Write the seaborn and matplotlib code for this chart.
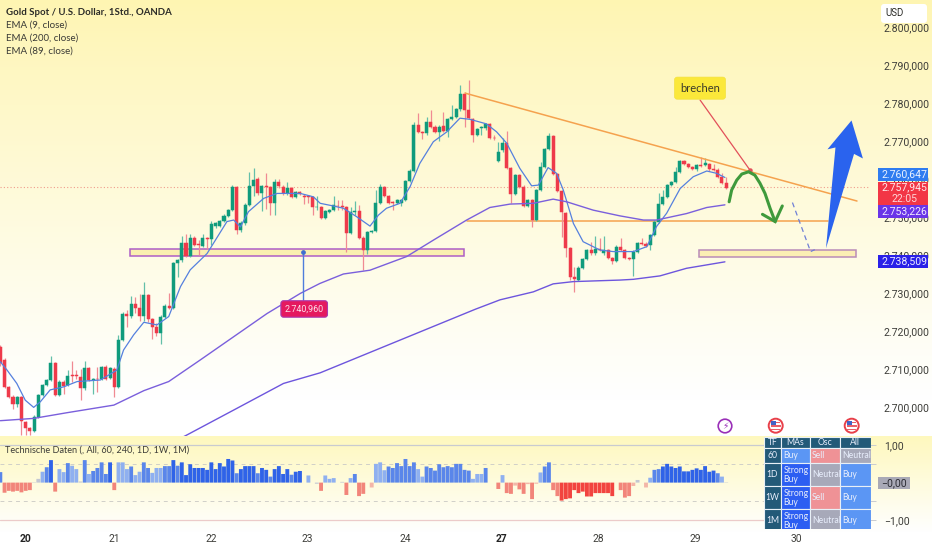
import numpy as np
import pandas as pd
import matplotlib
matplotlib.use("Agg")
import matplotlib.pyplot as plt
from matplotlib.patches import Rectangle, Polygon, Circle, FancyBboxPatch
import seaborn as sns

# ---------- data: candles ----------
opens = [2715.9,2712.4,2705.3,2702.7,2700.8,2702.7,2696.1,2694.4,2693.8,2697.3,
 2703.2,2705.8,2707.1,2711.5,2703.2,2706.7,2705.8,2708.4,2708.4,2708.0,
 2704.9,2710.2,2707.1,2707.5,2707.4,2710.6,2707.7,2710.0,2705.3,2717.6,
 2724.5,2724.0,2727.1,2726.0,2724.0,2729.5,2723.1,2721.0,2719.6,2723.8,
 2726.7,2726.1,2738.0,2738.7,2743.1,2739.8,2744.4,2742.9,2742.4,2744.4,
 2744.1,2747.7,2747.7,2748.9,2750.3,2751.8,2758.0,2746.6,2748.5,2753.2,
 2758.2,2760.0,2756.2,2758.2,2757.8,2753.6,2759.2,2758.0,2756.2,2757.5,
 2755.2,2756.5,2755.6,2755.5,2755.2,2752.5,2752.5,2749.8,2751.4,2751.9,
 2753.0,2752.9,2752.5,2745.7,2751.3,2751.6,2744.6,2741.3,2746.0,2746.4,
 2753.8,2757.8,2755.6,2753.9,2753.6,2753.6,2754.5,2759.5,2762.2,2774.1,
 2772.4,2772.0,2775.1,2773.8,2772.4,2773.9,2772.6,2775.8,2776.4,2778.3,
 2782.4,2778.2,2775.8,2771.7,2773.3,2773.3,2774.5,2770.9,2764.8,2767.5,
 2769.6,2762.8,2756.0,2761.0,2758.0,2752.9,2754.5,2749.2,2757.1,2763.2,
 2767.8,2771.3,2761.3,2756.9,2751.1,2741.9,2734.3,2733.4,2736.7,2738.9,
 2741.2,2740.4,2741.6,2740.4,2741.3,2739.3,2738.5,2742.2,2741.3,2739.3,
 2738.9,2740.9,2743.2,2743.0,2742.5,2745.3,2748.8,2753.4,2755.3,2758.4,
 2759.3,2761.9,2764.7,2763.9,2763.1,2762.5,2763.7,2763.7,2763.9,2762.5,
 2762.4,2760.6,2758.9]
closes = [2711.5,2705.3,2702.7,2700.8,2702.7,2696.4,2694.4,2693.8,2697.3,2703.2,
 2705.8,2707.1,2711.5,2703.2,2706.7,2705.5,2708.2,2708.2,2708.1,2704.9,
 2710.2,2707.1,2707.4,2707.3,2710.4,2707.5,2710.2,2705.3,2717.6,2724.5,
 2724.0,2727.1,2726.0,2724.0,2729.5,2723.1,2721.0,2719.6,2723.8,2726.7,
 2726.1,2738.0,2738.7,2743.1,2739.8,2744.4,2742.6,2742.7,2744.6,2744.2,
 2748.2,2748.4,2748.9,2750.3,2751.8,2758.0,2746.6,2748.5,2753.2,2758.2,
 2759.7,2756.2,2758.2,2757.8,2753.6,2759.2,2758.2,2756.2,2757.5,2755.2,
 2756.5,2756.1,2755.2,2755.3,2752.5,2752.7,2749.8,2751.6,2751.9,2753.2,
 2752.8,2752.6,2745.7,2751.4,2751.6,2744.6,2741.3,2746.0,2746.4,2753.8,
 2757.8,2755.6,2753.8,2753.8,2754.5,2754.5,2759.5,2762.2,2774.2,2772.4,
 2772.0,2775.1,2773.8,2772.4,2773.8,2772.6,2775.8,2776.4,2778.3,2782.4,
 2778.2,2776.0,2771.7,2773.1,2773.6,2774.5,2770.7,2770.7,2767.2,2769.6,
 2762.8,2756.0,2761.0,2758.0,2752.9,2754.5,2749.2,2757.1,2763.2,2767.8,
 2771.3,2761.3,2756.9,2751.4,2741.9,2734.3,2733.6,2736.7,2738.9,2741.3,
 2740.4,2741.7,2741.3,2741.3,2739.3,2738.5,2742.2,2741.3,2739.3,2738.9,
 2740.9,2743.2,2743.0,2742.4,2745.3,2748.8,2753.4,2755.3,2758.4,2759.3,
 2761.9,2764.7,2763.9,2763.1,2762.6,2763.7,2763.5,2764.1,2762.5,2762.4,
 2760.6,2759.0,2757.7]
highs = [2716.2,2712.8,2705.6,2703.2,2703.0,2703.0,2696.3,2694.7,2698.0,2703.5,
 2706.0,2707.5,2713.4,2711.8,2707.0,2707.0,2709.7,2712.2,2709.7,2710.0,
 2712.0,2710.5,2707.7,2710.4,2710.7,2711.0,2710.6,2710.5,2719.0,2725.0,
 2725.5,2729.1,2729.0,2729.7,2732.8,2729.8,2723.5,2722.0,2724.2,2727.2,
 2729.9,2738.2,2739.0,2745.0,2745.4,2745.6,2745.0,2744.0,2745.4,2744.7,
 2749.0,2748.8,2749.2,2750.7,2752.2,2758.3,2758.2,2749.0,2753.6,2761.9,
 2763.0,2760.5,2758.5,2761.5,2758.1,2760.0,2760.0,2758.3,2759.1,2757.8,
 2756.8,2756.8,2756.0,2755.8,2755.6,2755.4,2752.8,2751.9,2752.2,2755.4,
 2754.5,2754.5,2752.8,2752.7,2754.2,2753.1,2744.9,2746.3,2746.7,2757.1,
 2758.7,2758.1,2755.9,2754.1,2754.8,2754.8,2759.8,2762.5,2775.1,2777.3,
 2772.7,2776.4,2778.2,2774.1,2774.1,2777.5,2776.1,2779.5,2778.6,2784.7,
 2783.0,2786.1,2776.1,2773.4,2774.0,2774.8,2774.8,2771.5,2769.8,2770.7,
 2772.5,2763.1,2761.3,2761.3,2758.3,2754.8,2754.8,2757.4,2764.5,2768.1,
 2772.0,2771.6,2761.6,2757.2,2751.4,2742.2,2736.9,2737.0,2739.2,2741.6,
 2743.5,2745.0,2744.4,2745.0,2741.6,2739.6,2742.5,2744.6,2741.6,2739.6,
 2741.2,2743.5,2744.5,2743.3,2745.6,2749.1,2756.2,2757.1,2758.7,2759.6,
 2763.2,2765.0,2765.0,2764.2,2763.4,2764.0,2765.9,2765.4,2764.2,2763.9,
 2762.8,2761.5,2760.4]
lows = [2710.8,2705.0,2702.3,2699.5,2700.0,2692.6,2692.6,2692.6,2693.5,2697.0,
 2703.0,2705.5,2706.8,2703.0,2702.8,2703.5,2705.5,2706.7,2707.5,2701.8,
 2704.5,2706.8,2703.5,2704.0,2707.0,2707.2,2707.4,2702.7,2705.0,2717.3,
 2721.0,2723.5,2724.8,2722.5,2722.5,2722.3,2717.8,2718.6,2716.5,2723.5,
 2725.8,2725.8,2734.3,2738.2,2739.5,2739.5,2742.3,2740.0,2742.0,2741.5,
 2742.6,2747.0,2747.3,2748.6,2750.0,2751.5,2745.5,2746.0,2748.0,2752.9,
 2755.5,2755.8,2751.5,2752.0,2750.5,2750.5,2757.6,2755.9,2755.9,2754.9,
 2754.9,2755.8,2753.5,2753.6,2750.5,2751.8,2749.5,2749.5,2751.0,2751.6,
 2751.8,2751.8,2740.9,2745.4,2750.5,2744.3,2736.0,2740.2,2745.7,2746.1,
 2753.5,2755.3,2753.5,2751.8,2753.3,2752.8,2754.2,2759.2,2761.9,2772.1,
 2770.5,2771.7,2773.5,2772.1,2770.0,2772.3,2771.1,2775.5,2776.1,2778.0,
 2773.8,2775.7,2769.8,2771.4,2771.6,2773.0,2770.4,2770.3,2764.5,2767.2,
 2762.5,2753.8,2755.7,2757.7,2752.6,2752.6,2747.3,2748.9,2756.8,2762.9,
 2767.5,2761.0,2756.6,2744.8,2739.6,2733.5,2730.3,2733.1,2736.4,2738.6,
 2740.1,2740.1,2741.0,2740.1,2739.0,2737.5,2738.2,2741.0,2739.0,2738.6,
 2734.6,2740.6,2742.7,2742.1,2741.3,2745.0,2748.5,2753.1,2755.0,2758.1,
 2759.0,2761.6,2763.6,2762.8,2762.3,2762.2,2763.2,2763.4,2762.2,2762.1,
 2760.3,2758.7,2757.4]

# ---------- moving averages ----------
ema9_i = [0,1.6,3.9,5.9,7.9,9.5,11.8,15,18.2,23.7,27.6,29.2,31.6,34,37.1,39.9,42.7,45,49,53.7,
 55.3,56.9,58.8,62.4,65.6,71.1,74.2,75.8,78.9,81.3,84.4,87.6,89.6,91.5,94.7,97.1,99.4,102.6,105.8,108.9,
 111.3,115.2,117.6,120,123.1,125.9,127.5,129.8,131.8,133.4,135.8,138.1,142.1,145.2,150,153.2,155.5,157.9,161.1,164.2,
 167.4,169.7,171.7]
ema9_p = [2711.9,2709.7,2706.2,2701.8,2699.9,2701.4,2704.5,2705.3,2706.7,2707.1,2709.7,2715,2719,2722.3,2721.6,2723.8,2731.7,2736.1,2740.4,2748.8,
 2749.2,2747.4,2751.4,2754.9,2756.2,2756.2,2755.3,2753.6,2752.9,2752.3,2750.1,2747.6,2750.5,2752.3,2753.6,2758,2764.1,2769.8,2772.4,2776,
 2775.7,2774.5,2772.4,2769.4,2762.8,2758.2,2758.4,2763,2761.5,2757.1,2748.3,2743.5,2741.3,2740.9,2740.9,2742.2,2747.5,2751,2757.5,2760.6,
 2762.1,2761.5,2760.4]
ema89_i = [0,7.9,15.8,26.9,34,39.9,47.4,55.3,63.2,71.1,75.7,81.3,87.6,96.3,102.6,110.5,116,120.8,126.3,131,134.2,140.5,146.8,152.4,155.5,162.6,167.4,171.7]
ema89_p = [2696.4,2697,2698.5,2700.5,2704.3,2706.7,2712.4,2718.5,2724.6,2729.9,2732.5,2735,2736,2739.6,2743.9,2749.2,2752.5,2753.4,2753.6,2754.7,2754,2751.8,2750.3,2749.2,2749.2,2750.9,2752.5,2753.2]
ema200_i = [39.5,43.8,55.3,67.1,75.8,94.7,112.5,118.4,126.3,131,135.8,146.8,150,156.3,162.6,171.7]
ema200_p = [2690,2692.4,2699.2,2706.2,2709,2717.6,2725.7,2728.2,2730.3,2732.4,2733,2733.4,2733.6,2734.5,2736.5,2738.2]

# ---------- indicator histogram ----------
rating = [.28,-.27,-.22,-.24,-.22,-.26,-.22,-.2,.01,.1,
 .29,.41,.6,-.24,.36,.28,.52,.45,.36,.03,
 .6,.23,.31,.39,.54,.23,.54,-.2,.54,.54,
 .36,.43,.2,.29,.54,.39,.26,.39,.39,.44,
 .44,.6,.45,.54,.2,.49,.39,.39,.39,.34,
 .54,.36,.52,.43,.63,.59,.25,.36,.44,.44,
 .44,.25,.39,.34,.16,.36,.44,.23,.36,.21,
 .29,.31,0,.19,0,-.03,-.22,.19,.1,.12,
 0,.02,-.33,.12,.23,-.36,-.3,0,-.13,.5,
 .54,.33,.43,.39,.52,.44,.63,.44,.54,.36,
 .16,.43,.39,.32,.49,.41,.44,.41,.5,.5,
 .34,.32,.1,.23,.23,.39,0,0,-.17,.2,
 -.28,-.3,-.08,-.18,-.3,-.04,-.44,-.03,.27,.43,
 .54,-.2,-.36,-.48,-.44,-.42,-.2,-.28,-.24,-.37,
 -.37,-.28,-.28,-.28,-.28,-.36,0,-.2,-.4,-.36,
 -.09,.07,0,-.13,.13,.34,.36,.43,.5,.43,
 .39,.43,.3,.3,.34,.38,.34,.44,.29,.32,
 .25,.16,.01]
tones = list("mpppppppgg" "lmdpllmllg" "mlmmmmdpll" "lmllmmlllm" "mdmddddddd"
             "ddddddmddd" "dmddmddddm" "ddglggplll" "ggplmppgql" "llmmmmmmml"
             "lmmmmmmmmm" "mmlllmggpl" "ppqppqpqlm" "mpprrrrrrr" "rrrrrrgppp"
             "qggqlmmddd" "dddddddddd" "mlg")
tone_colors = {"d": "#2f63e8", "m": "#5a86ea", "l": "#8fb0f0", "g": "#c3c7d2",
               "r": "#f2443f", "p": "#f2857a", "q": "#f3b6a8"}

# ---------- axis text ----------
price_ticks = [2700, 2710, 2720, 2730, 2740, 2750, 2760, 2770, 2780, 2790, 2800]
day_positions = [5.9, 26.9, 49.9, 72.7, 95.9, 118.7, 141.7, 164.7, 188.7]
day_labels = ["20", "21", "22", "23", "24", "27", "28", "29", "30"]
legend_lines = ["EMA (9, close)", "EMA (200, close)", "EMA (89, close)"]
last_price = 2757.945

# ---------- drawings (chart coordinates) ----------
trend_i, trend_p = [110.1, 203.0], [2782.6, 2754.2]
level_i, level_p = [110.7, 196.2], [2748.85, 2748.85]
zone_left = (30.8, 109.9, 2739.7, 2741.6)
zone_right = (165.6, 202.7, 2739.5, 2741.3)
curve_i = [172.7,173.3,174.5,175.7,177.3,178.8,180.0,181.2,182.4,183.6]
curve_p = [2754.0,2757.1,2759.7,2761.3,2761.9,2761.0,2758.9,2756.2,2752.3,2748.8]
head_i, head_p = [180.6,183.6,185.3], [2750.7,2748.8,2752.9]
dash_i, dash_p = [187.7,192.0,193.0], [2753.8,2740.9,2741.4]
big_arrow = [(195.65,2741.75),(197.9,2768.3),(196.0,2767.8),(201.7,2775.4),(204.4,2765.4),(202.3,2766.6)]

# ---------- table ----------
tf_rows = ["60", "1D", "1W", "1M"]
ma_cells = ["Buy", "Strong\nBuy", "Strong\nBuy", "Strong\nBuy"]
osc_cells = ["Sell", "Neutral", "Sell", "Neutral"]
all_cells = ["Neutral", "Buy", "Buy", "Buy"]
headers = ["TF", "MAs", "Osc", "All"]

W, H = 932, 550
sns.set_theme(style="white")
plt.rcParams["font.family"] = ["Lato", "DejaVu Sans"]
NUM = ["Roboto", "DejaVu Sans"]
fig = plt.figure(figsize=(W / 100, H / 100), dpi=100)

def px_axes(x0, y0, x1, y1, z):
    a = fig.add_axes([x0 / W, 1 - y1 / H, (x1 - x0) / W, (y1 - y0) / H], zorder=z)
    a.patch.set_alpha(0)
    return a

# background wash
bg = px_axes(0, 0, W, H, 0)
grad = np.ones((H, 1, 3))
top = np.array([254, 245, 178]) / 255
low = np.array([254, 248, 190]) / 255
for y in range(H):
    if y < 436:
        t = min(y / 400, 1) ** 0.9
        grad[y, 0] = top * (1 - t) + np.ones(3) * t
    elif y < 532:
        t = (y - 436) / 96
        grad[y, 0] = low * (1 - t) + np.ones(3) * t
bg.imshow(grad, aspect="auto", extent=(0, W, H, 0))
bg.axis("off")

# main pane
ax = px_axes(0, 0, 870, 436, 2)
xl = (-0.08, 206.08)
idx = np.arange(len(opens))
o, c = np.array(opens), np.array(closes)
up = c >= o
GREEN, RED = "#0f9b7c", "#ee3a4a"
colors = np.where(up, GREEN, RED)
wick = np.where(up, "#63bfa9", "#f08a93")
ax.vlines(idx, lows, highs, colors=wick, lw=0.9, zorder=2)
ax.bar(idx, np.abs(c - o), bottom=np.minimum(o, c), width=0.72, color=colors,
       linewidth=0.35, edgecolor=colors, zorder=3)
ax.axhline(last_price, color="#f09a8c", lw=0.8, ls=(0, (1, 2)), zorder=1)

df9 = pd.DataFrame({"i": ema9_i, "p": ema9_p})
df89 = pd.DataFrame({"i": ema89_i, "p": ema89_p})
df200 = pd.DataFrame({"i": ema200_i, "p": ema200_p})
sns.lineplot(data=df9, x="i", y="p", ax=ax, color="#5580de", lw=0.9, errorbar=None, zorder=4)
sns.lineplot(data=df89, x="i", y="p", ax=ax, color="#7a5fdc", lw=1.0, errorbar=None, zorder=4)
sns.lineplot(data=df200, x="i", y="p", ax=ax, color="#6d55dd", lw=1.0, errorbar=None, zorder=4)

ORANGE = "#f5a24e"
ax.plot(trend_i, trend_p, color=ORANGE, lw=1.1, zorder=5)
ax.plot(level_i, level_p, color=ORANGE, lw=1.1, zorder=1.5)
ax.add_patch(Rectangle((zone_left[0], zone_left[2]), zone_left[1] - zone_left[0], zone_left[3] - zone_left[2],
                       fc="#faefae", ec="#a956c6", lw=1.1, alpha=0.95, zorder=1.8))
ax.add_patch(Rectangle((zone_right[0], zone_right[2]), zone_right[1] - zone_right[0], zone_right[3] - zone_right[2],
                       fc="#fbeeb4", ec="#b98cb8", lw=1.1, zorder=1.8))

# callout
ax.plot([71.8, 71.8], [2740.8, 2728.2], color="#4f7ddc", lw=1, zorder=6)
ax.plot([71.8], [2740.8], "o", ms=2.4, color="#3f6dd0", zorder=6)
ax.text(72, 2725.8, "2.740,960", ha="center", va="center", fontsize=6.4, color="#fde2ea", zorder=8,
        family=NUM, bbox=dict(boxstyle="round,pad=0.42,rounding_size=0.3", fc="#e5195f", ec="#a93bb0", lw=0.8))

# brechen label
ax.plot([165.8, 177.6], [2780.8, 2762.4], color="#e2505a", lw=0.9, zorder=6)
ax.plot([177.6], [2762.4], "o", ms=2.2, color="#e2505a", zorder=6)
ax.text(165.8, 2783.9, "brechen", ha="center", va="center", fontsize=8, color="#3a3a2a", zorder=8,
        bbox=dict(boxstyle="round,pad=0.5,rounding_size=0.25", fc="#fbe83a", ec="#f3e23e", lw=0.5))

# hand drawn forecasts
GRN = "#3f9a3c"
ax.plot(curve_i, curve_p, color=GRN, lw=2.2, zorder=7, solid_capstyle="round")
ax.plot(head_i, head_p, color=GRN, lw=2.2, zorder=7, solid_capstyle="round", solid_joinstyle="miter")
ax.plot(dash_i, dash_p, color="#6f7fd6", lw=0.9, ls=(0, (4, 3)), zorder=7)
ax.add_patch(Polygon(big_arrow, closed=True, fc="#2a63ee", ec="none", zorder=7))

ax.set_xlim(*xl)
ax.set_ylim(2692.37, 2807.1)
ax.set_xlabel("")
ax.set_ylabel("")
ax.set_xticks([])
ax.yaxis.tick_right()
ax.set_yticks(price_ticks)
ax.set_yticklabels([f"{t // 1000}.{t % 1000:03d},000" for t in price_ticks], fontsize=7.6, color="#3e3e3a",
                   family=NUM)
ax.tick_params(axis="y", length=0, pad=10)
for s in ax.spines.values():
    s.set_visible(False)

# indicator pane
ind = px_axes(0, 436, 870, 530, 2)
ind.axhline(1, color="#c9cbd0", lw=0.9)
ind.axhline(-1, color="#eccbc9", lw=0.9)
ind.axhline(0.5, color="#d0cfc8", lw=0.7, ls=(0, (4, 4)))
ind.axhline(-0.5, color="#d0cfc8", lw=0.7, ls=(0, (4, 4)))
bars = pd.DataFrame({"i": idx, "v": rating})
before = len(ind.patches)
sns.barplot(data=bars, x="i", y="v", native_scale=True, width=0.92, saturation=1,
            color="#5a86ea", ax=ind, linewidth=0, errorbar=None, zorder=3)
for patch, tone in zip(ind.patches[before:], tones):
    patch.set_facecolor(tone_colors[tone])
    patch.set_edgecolor("none")
    patch.set_snap(False)
ind.set_xlim(*xl)
ind.set_ylim(-1.264, 1.243)
ind.set_xlabel("")
ind.set_ylabel("")
ind.yaxis.tick_right()
ind.set_yticks([1, 0.5, -0.5, -1])
ind.set_yticklabels(["1,00", "", "", "\u22121,00"], fontsize=7.6, color="#3e3e3a", family=NUM)
ind.tick_params(axis="y", length=4, width=0.7, color="#c9cbd0", pad=6)
ind.set_xticks(day_positions)
ind.set_xticklabels(day_labels, fontsize=7.4, color="#3e3e3a", family=NUM)
ind.tick_params(axis="x", length=0, pad=3)
for lab, txt in zip(ind.get_xticklabels(), day_labels):
    if txt in ("20", "27"):
        lab.set_fontweight("bold")
        lab.set_color("#222222")
for s in ind.spines.values():
    s.set_visible(False)
ind.text(0.006, 0.855, "Technische Daten (, All, 60, 240, 1D, 1W, 1M)", transform=ind.transAxes,
         fontsize=6.6, color="#3c3c38", va="center", ha="left")

# table
tb = px_axes(764, 436.7, 870.7, 528.7, 5)
tb.set_xlim(764, 870.7)
tb.set_ylim(528.7, 436.7)
tb.axis("off")
col_edges = [764, 781, 809.6, 840, 870.7]
row_edges = [436.7, 448, 463.3, 486.3, 509.3, 535]
HEAD, BUY, SBUY, SELL, NEU = "#235a78", "#5b96f4", "#2c5ef2", "#ef9296", "#a7a9b9"
fill = {"Buy": BUY, "Strong\nBuy": SBUY, "Sell": SELL, "Neutral": NEU}
def cell(cx, ry, txt, fc, left=False, size=6.2):
    x0, x1 = col_edges[cx], col_edges[cx + 1]
    y0, y1 = row_edges[ry], row_edges[ry + 1]
    tb.add_patch(Rectangle((x0, y0), x1 - x0, y1 - y0, fc=fc, ec="#e8f0f6", lw=0.8, clip_on=True))
    ym = (y0 + y1) / 2 if ry < 4 else y0 + 11.5
    xt = x0 + 2.5 if left else (x0 + x1) / 2
    tb.text(xt, ym, txt, ha="left" if left else "center", va="center", fontsize=size,
            color="#e8eefc", linespacing=0.95, clip_on=True)
for k, h in enumerate(headers):
    cell(k, 0, h, HEAD)
for r in range(4):
    cell(0, r + 1, tf_rows[r], HEAD)
    cell(1, r + 1, ma_cells[r], fill[ma_cells[r]], left=True)
    cell(2, r + 1, osc_cells[r], fill[osc_cells[r]], left=True)
    cell(3, r + 1, all_cells[r], fill[all_cells[r]], left=True)

# overlay chrome in pixels
ov = px_axes(0, 0, W, H, 6)
ov.set_xlim(0, W)
ov.set_ylim(H, 0)
ov.axis("off")
ov.text(5.5, 12.5, "Gold Spot / U.S. Dollar, 1Std., OANDA", fontsize=6.9, fontweight="bold",
        color="#2c2c28", va="center")
for yy, t in zip([25.5, 38.5, 51.5], legend_lines):
    ov.text(5.5, yy, t, fontsize=7.0, color="#3a3a36", va="center")
ov.add_patch(FancyBboxPatch((881, 4), 46, 19, boxstyle="round,pad=0,rounding_size=3", fc="white", ec="none"))
ov.text(895, 13.5, "USD", fontsize=7.0, color="#2c2c28", va="center", ha="center", family=NUM)

def tag(y0, y1, color, lines):
    ov.add_patch(Rectangle((878.3, y0), 50, y1 - y0, fc=color, ec="none"))
    step = (y1 - y0) / len(lines)
    for n, (s, col) in enumerate(lines):
        ov.text(904, y0 + step * (n + 0.5), s, ha="center", va="center", fontsize=7.6, color=col, family=NUM)
tag(168.3, 181, "#2f7cf0", [("2.760,647", "#eaf2ff")])
tag(181.7, 205, "#f23645", [("2.757,945", "#ffe9ea"), ("22:05", "#ffd3d6")])
tag(205, 217.7, "#6a35e8", [("2.753,226", "#f0eaff")])
tag(255, 267.7, "#2a20e8", [("2.738,509", "#ecebff")])
ov.add_patch(Rectangle((878, 476.7), 32, 12.6, fc="#a9a9b6", ec="none"))
ov.text(894, 483, "\u22120,00", ha="center", va="center", fontsize=7.6, color="#2c2c34", family=NUM)

# event icons
ov.add_patch(Circle((725, 426), 6.8, fc="white", ec="#9a30b8", lw=1.2))
ov.text(725, 426.2, "\u26a1", ha="center", va="center", fontsize=6.5, color="#9a30b8", family="DejaVu Sans")
for cx in (775.7, 851.7):
    ov.add_patch(Circle((cx, 425.7), 7, fc="white", ec="#e8404a", lw=1.4))
    ov.add_patch(Rectangle((cx - 4.5, 421.5), 9, 1.5, fc="#e8606a", ec="none"))
    ov.add_patch(Rectangle((cx - 5, 425), 10, 1.5, fc="#e8606a", ec="none"))
    ov.add_patch(Rectangle((cx - 4.5, 428.5), 9, 1.5, fc="#e8606a", ec="none"))
    ov.add_patch(Rectangle((cx - 4.5, 420.8), 5, 4.6, fc="#3f64c8", ec="none"))

fig.savefig("out.png", dpi=100)
